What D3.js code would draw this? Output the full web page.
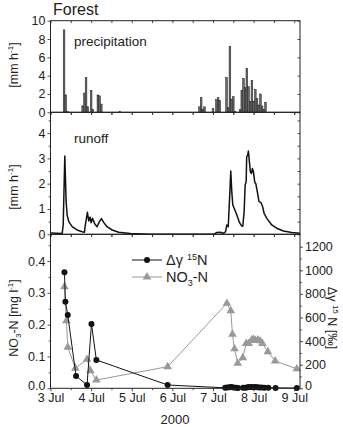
<!DOCTYPE html>
<html>
<head>
<meta charset="utf-8">
<script src="https://cdn.jsdelivr.net/npm/d3@7"></script>
<style>
  html, body { margin: 0; padding: 0; background: #fff; }
  svg { display: block; font-family: "Liberation Sans", Arial, sans-serif; }
</style>
</head>
<body>
<div id="chart"></div>
<script>
// ---- Data (hours since 3 Jul 2000 00:00) -----------------------------------
const dayLabels = ["3 Jul", "4 Jul", "5 Jul", "6 Jul", "7 Jul", "8 Jul", "9 Jul"];

const precipHour = [8, 9, 10, 19, 20, 21, 22, 24, 25, 28, 29, 30, 41,
  88, 89, 90, 91, 96, 98, 99, 100, 104, 105, 106, 107, 108, 109,
  112, 113, 114, 115, 116, 117, 118, 119, 120, 121, 122, 123, 124, 125, 126, 127];
const precipVal = [9.0, 1.9, 0.1, 0.7, 2.1, 3.8, 0.6, 2.4, 0.3, 1.9, 1.8, 0.9, 0.1,
  0.6, 1.6, 0.3, 0.6, 0.4, 1.4, 1.6, 1.3, 3.8, 0.5, 7.2, 1.4, 1.7, 0.1,
  0.3, 2.4, 3.7, 2.7, 4.8, 2.8, 1.2, 3.5, 1.2, 2.5, 1.5, 0.8, 2.0, 0.7, 0.3, 1.1];

const runoffHour = [0, 6.9, 7.5, 8.45, 9.24, 9.83, 10.8, 12.8, 15.7, 18.7, 20.0, 20.6, 21.8,
  22.6, 23.4, 24.0, 24.8, 26.1, 27.5, 28.9, 30.1, 31.4, 33.4, 36.4, 40.3, 47.2, 59.0,
  96.3, 98.3, 100.2, 102.2, 103.4, 104.2, 105.0, 105.8, 106.5, 107.1, 107.7, 108.7,
  110.1, 111.6, 112.8, 113.6, 114.4, 115.0, 115.6, 115.9, 116.5, 116.9, 117.5, 118.1,
  118.7, 119.3, 119.9, 120.7, 121.3, 122.2, 123.2, 124.2, 125.2, 126.2, 127.8, 130.7,
  133.6, 137.6, 142.5, 147.4];
const runoffVal = [0.05, 0.03, 0.37, 3.09, 1.29, 0.76, 0.5, 0.3, 0.17, 0.1, 0.08, 0.37, 0.87,
  0.53, 0.68, 0.46, 0.63, 0.42, 0.3, 0.5, 0.62, 0.47, 0.3, 0.17, 0.08, 0.03, 0.0,
  0.0, 0.07, 0.08, 0.04, 0.1, 0.37, 0.3, 1.42, 2.5, 1.68, 1.16, 1.0,
  0.76, 0.47, 0.34, 0.32, 0.9, 1.95, 2.08, 3.07, 3.13, 3.29, 2.87, 2.47,
  2.4, 2.6, 2.47, 2.05, 2.0, 1.68, 1.29, 1.26, 1.12, 0.83, 0.63, 0.37,
  0.24, 0.13, 0.07, 0.04];

// delta 15N (permil, right axis)
const deltaHour = [8.25, 8.8, 10.2, 15.1, 21.6, 24.2, 27.1, 69.2,
  103.2, 104.4, 105.7, 106.9, 108.1, 109.6, 110.8, 113.8, 115.3, 116.4, 117.5,
  118.6, 119.9, 121.0, 122.2, 123.4, 124.8, 126.4, 128.7, 133.0, 145.5];
const deltaVal = [983, 734, 621, 104, 28, 545, 240, 28,
  4, 6, 9, 12, 7, 5, 3, 4, 5, 8, 10,
  12, 9, 11, 8, 6, 7, 5, 4, 3, 2];

// NO3-N (mg/l, left axis)
const no3Hour = [8.25, 9.4, 10.2, 14.7, 21.6, 23.6, 27.1, 69.2, 104.2, 106.5, 107.5, 108.7,
  110.6, 113.6, 115.6, 117.1, 118.9, 119.9, 121.1, 122.5, 123.8, 125.2, 128.4, 132.7, 145.5];
const no3Val = [0.319, 0.212, 0.129, 0.063, 0.091, 0.055, 0.026, 0.068, 0.267, 0.244, 0.170, 0.124,
  0.079, 0.096, 0.141, 0.141, 0.152, 0.154, 0.150, 0.152, 0.149, 0.141, 0.115, 0.086, 0.061];

// ---- Layout -----------------------------------------------------------------
const W = 343, H = 427;
const L = 50.5, R = 300;
const P1 = { top: 20.7, bot: 112.3 };
const P2 = { top: 112.3, bot: 234.3 };
const P3 = { top: 234.3, bot: 388.3 };
const FS = 12.5;

const svg = d3.select("#chart").append("svg").attr("width", W).attr("height", H);

const x = d3.scaleLinear().domain([0, 147.4]).range([L, R]);
const y1 = d3.scaleLinear().domain([0, 10]).range([P1.bot, P1.top]);
const y2 = d3.scaleLinear().domain([0, 4.82]).range([P2.bot, P2.top]);
const y3 = d3.scaleLinear().domain([0, 0.484]).range([P3.bot, P3.top]);
const y3r = d3.scaleLinear().domain([0, 1305]).range([P3.bot, P3.top]);

const halfDays = d3.range(0, 147, 12);
const days = d3.range(0, 145, 24);

function styleAxis(g) {
  g.select(".domain").remove();
  g.selectAll("line").attr("stroke", "#222").attr("stroke-width", 0.8);
  g.selectAll("text").attr("font-size", FS).attr("fill", "#222");
}

function frame(p) {
  svg.append("rect").attr("x", L).attr("y", p.top)
    .attr("width", R - L).attr("height", p.bot - p.top)
    .attr("fill", "none").attr("stroke", "#222").attr("stroke-width", 1);
}

function xTicksNoLabel(p) {
  svg.append("g").attr("transform", `translate(0,${p.bot})`)
    .call(d3.axisBottom(x).tickValues(halfDays).tickSize(2.5).tickFormat(""))
    .call(styleAxis);
  svg.append("g").attr("transform", `translate(0,${p.top})`)
    .call(d3.axisBottom(x).tickValues(halfDays).tickSize(2.5).tickFormat(""))
    .call(styleAxis);
}

// ---- Panel 1: precipitation -------------------------------------------------
svg.append("g").selectAll("rect")
  .data(precipHour.map((h, i) => ({ h, v: precipVal[i] })))
  .join("rect")
  .attr("x", d => x(d.h - 0.5))
  .attr("width", d => x(d.h + 0.5) - x(d.h - 0.5))
  .attr("y", d => y1(d.v))
  .attr("height", d => y1(0) - y1(d.v))
  .attr("fill", "#666").attr("stroke", "#222").attr("stroke-width", 0.5);

svg.append("g").attr("transform", `translate(${L},0)`)
  .call(d3.axisLeft(y1).tickValues([0, 2, 4, 6, 8, 10]).tickSize(3).tickPadding(2))
  .call(styleAxis);
svg.append("g").attr("transform", `translate(${R},0)`)
  .call(d3.axisLeft(y1).tickValues([0, 2, 4, 6, 8, 10]).tickSize(2.5).tickFormat(""))
  .call(styleAxis);
xTicksNoLabel(P1);
frame(P1);

svg.append("text").attr("x", 74).attr("y", 46).attr("font-size", 13.5).attr("fill", "#222")
  .text("precipitation");
svg.append("text").attr("x", 53).attr("y", 15).attr("font-size", 16).attr("fill", "#222")
  .text("Forest");

// ---- Panel 2: runoff --------------------------------------------------------
const runoffLine = d3.line().x((h) => x(h)).y((h, i) => y2(runoffVal[i]));
svg.append("path").attr("d", runoffLine(runoffHour))
  .attr("fill", "none").attr("stroke", "#111").attr("stroke-width", 1.5)
  .attr("stroke-linejoin", "round");

svg.append("g").attr("transform", `translate(${L},0)`)
  .call(d3.axisLeft(y2).tickValues([0, 1, 2, 3, 4]).tickSize(3).tickPadding(2)
    .tickFormat(d3.format("d")))
  .call(styleAxis);
svg.append("g").attr("transform", `translate(${L},0)`)
  .call(d3.axisLeft(y2).tickValues([0.5, 1.5, 2.5, 3.5, 4.5]).tickSize(1.8).tickFormat(""))
  .call(styleAxis);
svg.append("g").attr("transform", `translate(${R},0)`)
  .call(d3.axisLeft(y2).tickValues(d3.range(0, 4.6, 0.5)).tickSize(2.5).tickFormat(""))
  .call(styleAxis);
xTicksNoLabel(P2);
frame(P2);

svg.append("text").attr("x", 74).attr("y", 143).attr("font-size", 13.5).attr("fill", "#222")
  .text("runoff");

// y labels for panels 1 & 2
[65, 187].forEach((cy) => {
  const t = svg.append("text").attr("transform", `translate(18,${cy}) rotate(-90)`)
    .attr("text-anchor", "middle").attr("font-size", FS).attr("fill", "#222");
  t.append("tspan").text("[mm h");
  t.append("tspan").attr("font-size", 8).attr("dy", -5).text("-1");
  t.append("tspan").attr("dy", 5).text("]");
});

// ---- Panel 3: NO3-N and delta 15N ------------------------------------------
const no3Pts = no3Hour.map((h, i) => ({ h, v: no3Val[i] }));
const deltaPts = deltaHour.map((h, i) => ({ h, v: deltaVal[i] }));

svg.append("path")
  .attr("d", d3.line().x(d => x(d.h)).y(d => y3(d.v))(no3Pts))
  .attr("fill", "none").attr("stroke", "#999").attr("stroke-width", 1);
svg.append("g").selectAll("path")
  .data(no3Pts).join("path")
  .attr("transform", d => `translate(${x(d.h)},${y3(d.v)})`)
  .attr("d", d3.symbol().type(d3.symbolTriangle).size(32))
  .attr("fill", "#999");

svg.append("path")
  .attr("d", d3.line().x(d => x(d.h)).y(d => y3r(d.v))(deltaPts))
  .attr("fill", "none").attr("stroke", "#111").attr("stroke-width", 1);
svg.append("g").selectAll("circle")
  .data(deltaPts).join("circle")
  .attr("cx", d => x(d.h)).attr("cy", d => y3r(d.v)).attr("r", 3)
  .attr("fill", "#111");

// zero labels sit a little higher so they clear the date labels
const liftZero = (g) => g.selectAll(".tick text").filter(d => d === 0).attr("dy", "0.08em");

svg.append("g").attr("transform", `translate(${L},0)`)
  .call(d3.axisLeft(y3).tickValues([0, 0.1, 0.2, 0.3, 0.4]).tickSize(3).tickPadding(2)
    .tickFormat(d3.format(".1f")))
  .call(styleAxis).call(liftZero);
svg.append("g").attr("transform", `translate(${L},0)`)
  .call(d3.axisLeft(y3).tickValues([0.05, 0.15, 0.25, 0.35, 0.45]).tickSize(1.8).tickFormat(""))
  .call(styleAxis);
svg.append("g").attr("transform", `translate(${R},0)`)
  .call(d3.axisRight(y3r).tickValues([0, 200, 400, 600, 800, 1000, 1200]).tickSize(3).tickPadding(2)
    .tickFormat(d3.format("d")))
  .call(styleAxis).call(liftZero);
svg.append("g").attr("transform", `translate(${R},0)`)
  .call(d3.axisRight(y3r).tickValues([100, 300, 500, 700, 900, 1100]).tickSize(1.8).tickFormat(""))
  .call(styleAxis);
svg.append("g").attr("transform", `translate(0,${P3.bot})`)
  .call(d3.axisBottom(x).tickValues(days).tickSize(3).tickPadding(2)
    .tickFormat((d, i) => dayLabels[i]))
  .call(styleAxis);
svg.append("g").attr("transform", `translate(0,${P3.bot})`)
  .call(d3.axisBottom(x).tickValues(d3.range(12, 147, 24)).tickSize(1.8).tickFormat(""))
  .call(styleAxis);
svg.append("g").attr("transform", `translate(0,${P3.top})`)
  .call(d3.axisBottom(x).tickValues(halfDays).tickSize(2.5).tickFormat(""))
  .call(styleAxis);
frame(P3);

svg.append("text").attr("x", 175).attr("y", 424).attr("text-anchor", "middle")
  .attr("font-size", 13).attr("fill", "#222").text("2000");

// left label
{
  const t = svg.append("text").attr("transform", `translate(18,318) rotate(-90)`)
    .attr("text-anchor", "middle").attr("font-size", FS).attr("fill", "#222");
  t.append("tspan").text("NO");
  t.append("tspan").attr("font-size", 8).attr("dy", 3).text("3");
  t.append("tspan").attr("dy", -3).text("-N [mg l");
  t.append("tspan").attr("font-size", 8).attr("dy", -5).text("-1");
  t.append("tspan").attr("dy", 5).text("]");
}
// right label
{
  const t = svg.append("text").attr("transform", `translate(328,318) rotate(90)`)
    .attr("text-anchor", "middle").attr("font-size", FS).attr("fill", "#222");
  t.append("tspan").text("\u0394\u03B3 ");
  t.append("tspan").attr("font-size", 8).attr("dy", -5).text("15");
  t.append("tspan").attr("dy", 5).text(" N [\u2030]");
}

// legend
const legend = svg.append("g");
legend.append("line").attr("x1", 132).attr("x2", 162).attr("y1", 260).attr("y2", 260)
  .attr("stroke", "#111").attr("stroke-width", 1);
legend.append("circle").attr("cx", 147).attr("cy", 260).attr("r", 3).attr("fill", "#111");
{
  const t = legend.append("text").attr("x", 166).attr("y", 265).attr("font-size", 14.5).attr("fill", "#222");
  t.append("tspan").text("\u0394\u03B3 ");
  t.append("tspan").attr("font-size", 9).attr("dy", -5).text("15");
  t.append("tspan").attr("dy", 5).text("N");
}
legend.append("line").attr("x1", 132).attr("x2", 162).attr("y1", 277).attr("y2", 277)
  .attr("stroke", "#999").attr("stroke-width", 1);
legend.append("path").attr("transform", "translate(147,277)")
  .attr("d", d3.symbol().type(d3.symbolTriangle).size(32)).attr("fill", "#999");
{
  const t = legend.append("text").attr("x", 166).attr("y", 282).attr("font-size", 14.5).attr("fill", "#222");
  t.append("tspan").text("NO");
  t.append("tspan").attr("font-size", 9).attr("dy", 4).text("3");
  t.append("tspan").attr("dy", -4).text("-N");
}
</script>
</body>
</html>
